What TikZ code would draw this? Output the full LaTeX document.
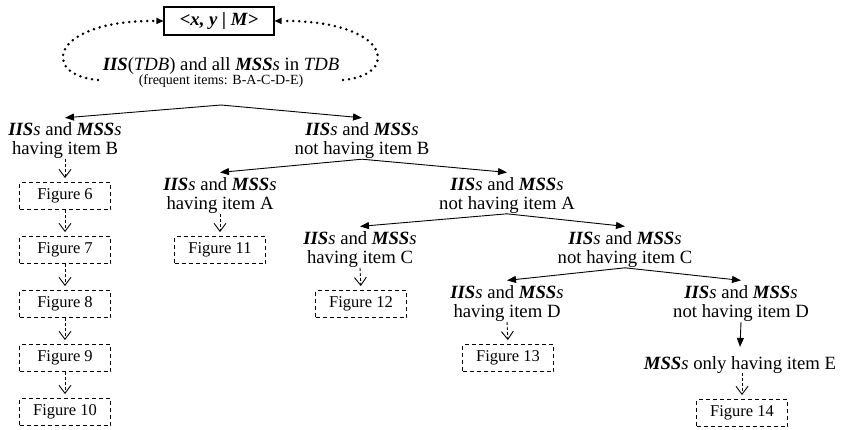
\documentclass[tikz,border=0pt]{standalone}
\usepackage{fontspec}
\setmainfont{Liberation Serif}
\usetikzlibrary{arrows.meta}
\newcommand\bi[1]{\textbf{\textit{#1}}}
\newcommand\setname[2]{\bi{#1}\textit{s} and \bi{#2}\textit{s}}
\begin{document}
\begin{tikzpicture}[x=1pt,y=-1pt,
  lbl/.style={align=center,inner sep=0pt,font=\fontsize{18.7}{19}\selectfont},
  figbox/.style={draw,dash pattern=on 4pt off 3pt,line width=0.9pt,minimum width=91pt,
    minimum height=27pt,inner sep=0pt,font=\fontsize{16.5}{18}\selectfont},
  split/.style={line width=0.9pt,-{Triangle[length=9pt,width=7pt]}},
  nextfig/.style={line width=0.9pt,dash pattern=on 3pt off 2pt,
    -{Straight Barb[length=8pt,width=12pt,line width=0.9pt]},shorten >=4pt},
  loopback/.style={line width=2.8pt,line cap=round,dash pattern=on 0pt off 6pt,
    -{Triangle[length=7pt,width=6.5pt,line width=0pt]}}
]
\useasboundingbox (0,0) rectangle (843,429);

% root of the search tree
\node[draw,line width=1.3pt,minimum width=110pt,minimum height=28pt,inner sep=0pt,
  font=\fontsize{18.7}{19}\selectfont] (top) at (219,21) {\bi{<x, y | M>}};
\node[lbl] (root) at (221,66) {\bi{IIS}(\textit{TDB}) and all \bi{MSS}\textit{s} in \textit{TDB}};
\node[inner sep=0pt,font=\fontsize{14}{16}\selectfont] (freq) at (221,81) {(frequent items: B-A-C-D-E)};

% dotted loops back to the box
\coordinate (lend) at (98,80);
\coordinate (rend) at (343,80);
\draw[loopback] (lend) .. controls (40,75) and (50,20) .. (top.west);
\draw[loopback] (rend) .. controls (401,75) and (391,20) .. (top.east);

% split points and branches
\coordinate (s0) at (221,105);
\node[lbl] (hB) at (65,141) {\setname{IIS}{MSS}\\having item B};
\node[lbl] (nB) at (362,141) {\setname{IIS}{MSS}\\not having item B};
\node[lbl] (hA) at (220,195.6) {\setname{IIS}{MSS}\\having item A};
\node[lbl] (nA) at (507,195.6) {\setname{IIS}{MSS}\\not having item A};
\node[lbl] (hC) at (360,249.6) {\setname{IIS}{MSS}\\having item C};
\node[lbl] (nC) at (625,249.6) {\setname{IIS}{MSS}\\not having item C};
\node[lbl] (hD) at (507,303.6) {\setname{IIS}{MSS}\\having item D};
\node[lbl] (nD) at (741,303.6) {\setname{IIS}{MSS}\\not having item D};
\node[lbl] (onlyE) at (740,364.6) {\bi{MSS}\textit{s} only having item E};

\draw[split] (s0) -- ([yshift=5pt]hB.north);
\draw[split] (s0) -- ([yshift=5pt]nB.north);
\draw[split] (nB.south) -- ([yshift=5pt]hA.north);
\draw[split] (nB.south) -- ([yshift=5pt]nA.north);
\draw[split] (nA.south) -- ([yshift=5pt]hC.north);
\draw[split] (nA.south) -- ([yshift=5pt]nC.north);
\draw[split] (nC.south) -- ([yshift=5pt]hD.north);
\draw[split] (nC.south) -- ([yshift=5pt]nD.north);
\draw[split] (nD.south) -- ([yshift=9pt]onlyE.north);

% figure references
\node[figbox] (f6) at (65,196) {Figure 6};
\node[figbox] (f7) at (65,250) {Figure 7};
\node[figbox] (f8) at (65,304) {Figure 8};
\node[figbox] (f9) at (65,358) {Figure 9};
\node[figbox] (f10) at (65,412) {Figure 10};
\node[figbox] (f11) at (220,250) {Figure 11};
\node[figbox] (f12) at (361,304) {Figure 12};
\node[figbox] (f13) at (508,358) {Figure 13};
\node[figbox] (f14) at (742,413) {Figure 14};

\draw[nextfig] (hB.south) -- (f6.north);
\draw[nextfig] (f6.south) -- (f7.north);
\draw[nextfig] (f7.south) -- (f8.north);
\draw[nextfig] (f8.south) -- (f9.north);
\draw[nextfig] (f9.south) -- (f10.north);
\draw[nextfig] (hA.south) -- (f11.north);
\draw[nextfig] (hC.south) -- (f12.north);
\draw[nextfig] (hD.south) -- (f13.north);
\draw[nextfig] (onlyE.south -| f14.north) -- (f14.north);
\end{tikzpicture}
\end{document}
